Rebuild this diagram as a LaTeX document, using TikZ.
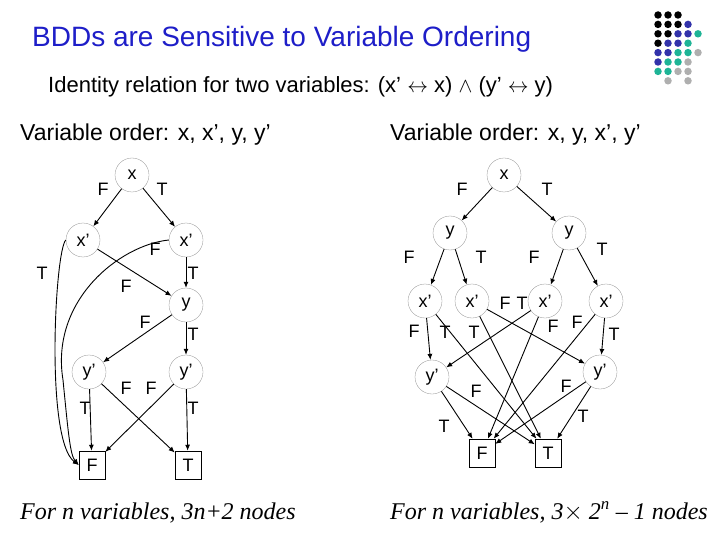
\documentclass[tikz,border=0pt]{standalone}
\usepackage{fontspec}
\setmainfont{Liberation Sans}
\newfontfamily\serifit{Liberation Serif}
\usetikzlibrary{arrows.meta}
\definecolor{ttl}{RGB}{30,30,200}
\definecolor{dk}{RGB}{0,0,0}
\definecolor{db}{RGB}{50,50,170}
\definecolor{dt}{RGB}{30,180,150}
\definecolor{dg}{RGB}{175,175,175}
\begin{document}
\begin{tikzpicture}[x=1pt,y=-1pt,
  vn/.style={circle,draw=black!45,line width=0.3pt,minimum size=34pt,inner sep=0pt,font=\fontsize{18}{18}\selectfont},
  tn/.style={rectangle,draw,line width=0.5pt,minimum width=26pt,minimum height=28pt,inner sep=0pt,font=\fontsize{18}{18}\selectfont},
  ed/.style={-{Latex[length=6pt,width=5pt]},line width=0.9pt},
  lb/.style={font=\fontsize{18}{18}\selectfont},
  tx/.style={anchor=base west,inner sep=0pt},
  dot/.style={circle,inner sep=0pt,minimum size=7.5pt}]
\useasboundingbox (0,0) rectangle (720,540);
% title
\node[tx,text=ttl,font=\fontsize{28}{28}\selectfont] (title) at (32,47) {BDDs are Sensitive to Variable Ordering};
\node[tx,font=\fontsize{22}{22}\selectfont] (sub) at (48,93) {Identity relation for two variables: (x’ $\leftrightarrow$ x) $\wedge$ (y' $\leftrightarrow$ y)};
\node[tx,font=\fontsize{23}{23}\selectfont] (ol) at (20,141) {Variable order: x, x’, y, y'};
\node[tx,font=\fontsize{23}{23}\selectfont] (or) at (390,141) {Variable order: x, y, x’, y'};
\node[tx,font=\serifit\itshape\fontsize{24}{24}\selectfont] (cl) at (20,519) {For n variables, 3n+2 nodes};
\node[tx,font=\serifit\itshape\fontsize{24}{24}\selectfont] (cr) at (390,519) {For n variables, 3$\times$ 2\textsuperscript{n} – 1 nodes};
% dots
\foreach \r/\cols in {0/{0/dk,1/dk,2/dk},1/{0/dk,1/dk,2/dk,3/db},2/{0/dk,1/dk,2/db,3/db,4/dt},3/{0/dk,1/db,2/db,3/dt},4/{0/db,1/db,2/dt,3/dt,4/dg},5/{0/db,1/dt,2/dt,3/dg},6/{0/dt,1/dt,2/dg,3/dg},7/{1/dg,3/dg}}
  \foreach \c/\col in \cols
    \node[dot,fill=\col] (d\r\c) at (658+10*\c,15+9.4*\r) {};
% left BDD
\node[vn] (a) at (132,175) {x};
\node[vn] (b1) at (83,240) {x’};
\node[vn] (b2) at (186,240) {x’};
\node[vn] (c) at (186,305) {y};
\node[vn] (d1) at (89,372) {y’};
\node[vn] (d2) at (186,372) {y’};
\node[tn] (F1) at (92,465) {F};
\node[tn] (T1) at (188,465) {T};
\draw[ed] (a) -- (b1); \node[lb] at (103,189) {F};
\draw[ed] (a) -- (b2); \node[lb] at (162,189) {T};
\draw[ed] (b1.west) .. controls (55,250) and (45,440) .. (F1.west); \node[lb] at (42,273) {T};
\draw[ed] (b2.west) .. controls (120,245) and (50,300) .. (63,380) .. controls (68,430) and (70,455) .. (F1.west); \node[lb] at (155,249) {F};
\draw[ed] (b2) -- (c); \node[lb] at (193,273) {T};
\draw[ed] (b1) -- (c); \node[lb] at (126,286) {F};
\draw[ed] (c) -- (d1); \node[lb] at (145,322) {F};
\draw[ed] (c) -- (d2); \node[lb] at (193,334) {T};
\draw[ed] (d1) -- (F1); \node[lb] at (85,408) {T};
\draw[ed] (d1) -- (T1); \node[lb] at (126,388) {F};
\draw[ed] (d2) -- (F1); \node[lb] at (151,388) {F};
\draw[ed] (d2) -- (T1); \node[lb] at (193,408) {T};
% right BDD
\node[vn] (ra) at (504,175) {x};
\node[vn] (rb1) at (450,233) {y};
\node[vn] (rb2) at (569,233) {y};
\node[vn] (rc1) at (425,301) {x’};
\node[vn] (rc2) at (472,301) {x’};
\node[vn] (rc3) at (545,301) {x’};
\node[vn] (rc4) at (606,301) {x’};
\node[vn] (rd1) at (432,377) {y’};
\node[vn] (rd2) at (600,372) {y’};
\node[tn] (F2) at (482,453) {F};
\node[tn] (T2) at (548,453) {T};
\draw[ed] (ra) -- (rb1); \node[lb] at (462,189) {F};
\draw[ed] (ra) -- (rb2); \node[lb] at (547,189) {T};
\draw[ed] (rb1) -- (rc1); \node[lb] at (409,257) {F};
\draw[ed] (rb1) -- (rc2); \node[lb] at (481,257) {T};
\draw[ed] (rb2) -- (rc3); \node[lb] at (534,257) {F};
\draw[ed] (rb2) -- (rc4); \node[lb] at (602,249) {T};
\draw[ed] (rc1) -- (rd1); \node[lb] at (414,331) {F};
\draw[ed] (rc1) -- (T2); \node[lb] at (445,332) {T};
\draw[ed] (rc2) -- (T2); \node[lb] at (474,332) {T};
\draw[ed] (rc2) -- (rd2); \node[lb] at (505,303) {F};
\draw[ed] (rc3) -- (rd1); \node[lb] at (522,303) {T};
\draw[ed] (rc3) -- (F2); \node[lb] at (553,326) {F};
\draw[ed] (rc4) -- (F2); \node[lb] at (577,322) {F};
\draw[ed] (rc4) -- (rd2); \node[lb] at (614,334) {T};
\draw[ed] (rd1) -- (F2); \node[lb] at (444,426) {T};
\draw[ed] (rd1) -- (T2); \node[lb] at (476,391) {F};
\draw[ed] (rd2) -- (F2); \node[lb] at (566,386) {F};
\draw[ed] (rd2) -- (T2); \node[lb] at (583,416) {T};
\end{tikzpicture}
\end{document}
